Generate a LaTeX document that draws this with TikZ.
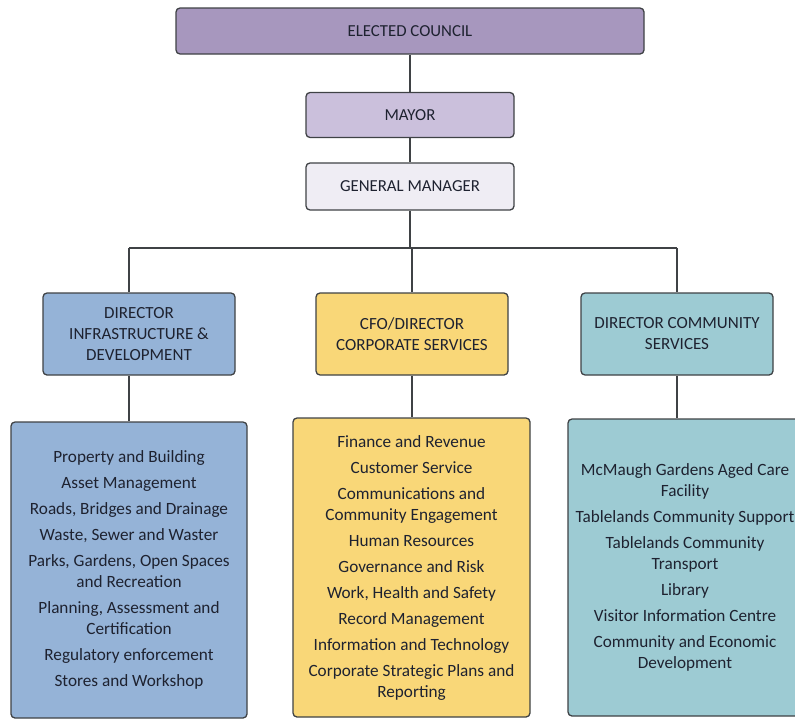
\documentclass[tikz,border=0pt]{standalone}
\usepackage{fontspec}
\setmainfont{Carlito}
\definecolor{txt}{HTML}{1E2230}
\definecolor{edge}{HTML}{3F4245}
\definecolor{council}{HTML}{A797BE}
\definecolor{mayorc}{HTML}{CBC0DC}
\definecolor{gmc}{HTML}{EFEDF4}
\definecolor{bluec}{HTML}{95B3D7}
\definecolor{yellowc}{HTML}{F9D778}
\definecolor{tealc}{HTML}{9DCBD3}
\begin{document}
\begin{tikzpicture}[x=1pt,y=-1pt,
  box/.style={draw=edge,line width=1.3pt,rounded corners=4pt,inner sep=0pt,text=txt,align=center},
  head/.style={box,font=\fontsize{16.8}{20}\selectfont},
  dir/.style={box,font=\fontsize{17}{21}\selectfont},
  list/.style={box,font=\fontsize{17.2}{21}\selectfont},
  conn/.style={draw=edge,line width=1.3pt}]
\useasboundingbox (0,0) rectangle (795,720);
\node[head,fill=council,minimum width=468pt,minimum height=46pt] (council) at (410,31) {ELECTED COUNCIL};
\node[head,fill=mayorc,minimum width=208pt,minimum height=45pt] (mayor) at (410,115) {MAYOR};
\node[head,fill=gmc,minimum width=208pt,minimum height=47pt] (gm) at (410,186.5) {GENERAL MANAGER};
\node[dir,fill=bluec,minimum width=192pt,minimum height=82pt] (d1) at (139,334) {DIRECTOR\\INFRASTRUCTURE \&\\DEVELOPMENT};
\node[dir,fill=yellowc,minimum width=192pt,minimum height=82pt] (d2) at (412,334) {CFO/DIRECTOR\\CORPORATE SERVICES};
\node[dir,fill=tealc,minimum width=192pt,minimum height=82pt] (d3) at (677,334) {DIRECTOR COMMUNITY\\SERVICES};
\node[list,fill=bluec,minimum width=236pt,minimum height=296pt] (b1) at (129,570) {Property and Building\\[5pt]Asset Management\\[5pt]Roads, Bridges and Drainage\\[5pt]Waste, Sewer and Waster\\[5pt]Parks, Gardens, Open Spaces\\and Recreation\\[5pt]Planning, Assessment and\\Certification\\[5pt]Regulatory enforcement\\[5pt]Stores and Workshop};
\node[list,fill=yellowc,minimum width=237pt,minimum height=299pt] (b2) at (411.5,567.5) {Finance and Revenue\\[5pt]Customer Service\\[5pt]Communications and\\Community Engagement\\[5pt]Human Resources\\[5pt]Governance and Risk\\[5pt]Work, Health and Safety\\[5pt]Record Management\\[5pt]Information and Technology\\[5pt]Corporate Strategic Plans and\\Reporting};
\node[list,fill=tealc,minimum width=234pt,minimum height=297pt] (b3) at (685,567.5) {McMaugh Gardens Aged Care\\Facility\\[5pt]Tablelands Community Support\\[5pt]Tablelands Community\\Transport\\[5pt]Library\\[5pt]Visitor Information Centre\\[5pt]Community and Economic\\Development};
\coordinate (busL) at (129,248);
\coordinate (busM) at (412,248);
\coordinate (busR) at (677,248);
\draw[conn] (council) -- (mayor);
\draw[conn] (mayor) -- (gm);
\draw[conn] (gm.south) -- (gm.south |- busL);
\draw[conn] (busL) -- (busR);
\draw[conn] (busL) -- (busL |- d1.north);
\draw[conn] (busM) -- (busM |- d2.north);
\draw[conn] (busR) -- (busR |- d3.north);
\draw[conn] (busL |- d1.south) -- (busL |- b1.north);
\draw[conn] (busM |- d2.south) -- (busM |- b2.north);
\draw[conn] (busR |- d3.south) -- (busR |- b3.north);
\end{tikzpicture}
\end{document}
